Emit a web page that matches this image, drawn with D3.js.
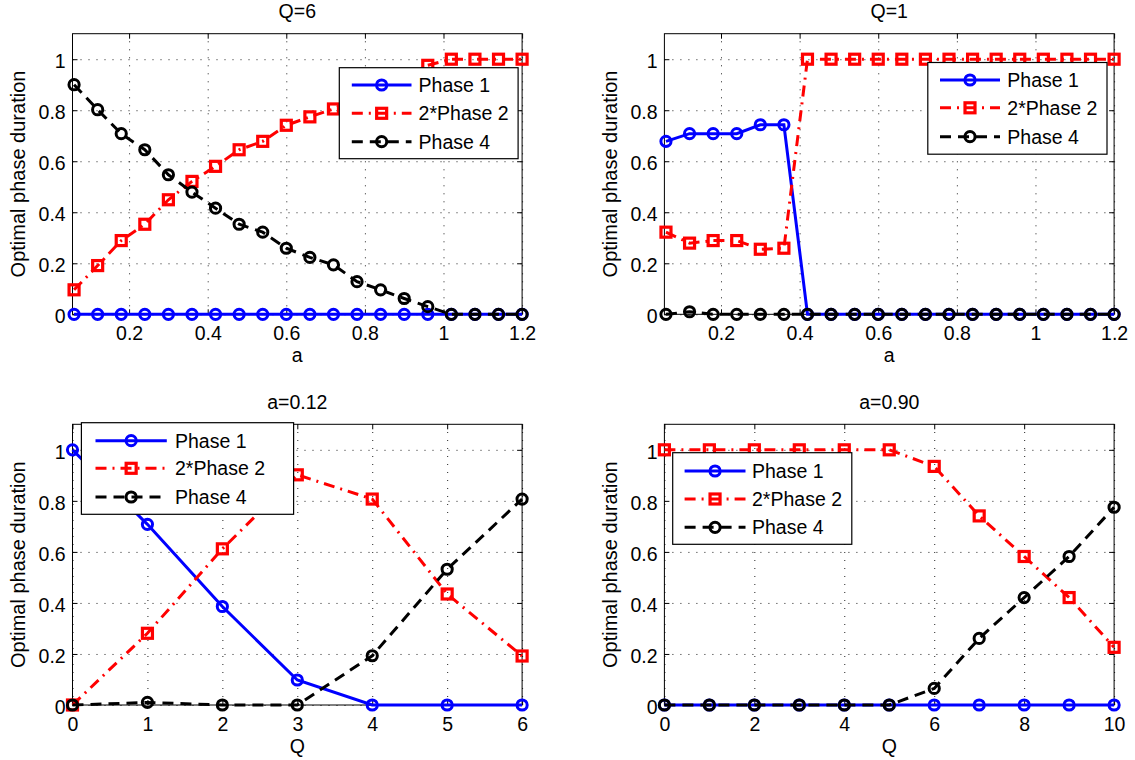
<!DOCTYPE html>
<html>
<head>
<meta charset="utf-8">
<script src="https://cdn.jsdelivr.net/npm/d3@7"></script>
<style>
  html, body { margin: 0; padding: 0; background: #fff; }
  svg { display: block; font-family: "Liberation Sans", Arial, Helvetica, sans-serif; }
</style>
</head>
<body>
<svg id="chart" width="1135" height="760"></svg>
<script>
// ---------------- DATA ----------------
const aValues = [0.06, 0.12, 0.18, 0.24, 0.30, 0.36, 0.42, 0.48, 0.54, 0.60,
                 0.66, 0.72, 0.78, 0.84, 0.90, 0.96, 1.02, 1.08, 1.14, 1.20];
const qValuesLow = [0, 1, 2, 3, 4, 5, 6];
const qValuesHigh = [0, 1, 2, 3, 4, 5, 6, 7, 8, 9, 10];

// Panel "Q=6"
const q6Phase1 = [0, 0, 0, 0, 0, 0, 0, 0, 0, 0, 0, 0, 0, 0, 0, 0, 0, 0, 0, 0];
const q6Phase2 = [0.096, 0.191, 0.289, 0.353, 0.449, 0.521, 0.580, 0.645, 0.678, 0.741,
                  0.774, 0.805, 0.845, 0.885, 0.930, 0.976, 1, 1, 1, 1];
const q6Phase4 = [0.900, 0.802, 0.708, 0.645, 0.547, 0.479, 0.416, 0.353, 0.322, 0.259,
                  0.223, 0.194, 0.128, 0.096, 0.062, 0.030, 0, 0, 0, 0];

// Panel "Q=1"
const q1Phase1 = [0.678, 0.708, 0.708, 0.708, 0.743, 0.743, 0, 0, 0, 0,
                  0, 0, 0, 0, 0, 0, 0, 0, 0, 0];
const q1Phase2 = [0.322, 0.279, 0.289, 0.289, 0.255, 0.259, 1, 1, 1, 1,
                  1, 1, 1, 1, 1, 1, 1, 1, 1, 1];
const q1Phase4 = [0, 0.010, 0, 0, 0, 0, 0, 0, 0, 0,
                  0, 0, 0, 0, 0, 0, 0, 0, 0, 0];

// Panel "a=0.12"
const a012Phase1 = [1.0, 0.708, 0.386, 0.098, 0, 0, 0];
const a012Phase2 = [0, 0.281, 0.612, 0.902, 0.807, 0.435, 0.192];
const a012Phase4 = [0, 0.010, 0, 0, 0.193, 0.532, 0.807];

// Panel "a=0.90"
const a090Phase1 = [0, 0, 0, 0, 0, 0, 0, 0, 0, 0, 0];
const a090Phase2 = [1, 1, 1, 1, 1, 1, 0.935, 0.741, 0.582, 0.421, 0.226];
const a090Phase4 = [0, 0, 0, 0, 0, 0, 0.065, 0.261, 0.421, 0.582, 0.775];

const seriesNames = ["Phase 1", "2*Phase 2", "Phase 4"];
const panelTitles = ["Q=6", "Q=1", "a=0.12", "a=0.90"];
const xLabels = ["a", "a", "Q", "Q"];
const yLabel = "Optimal phase duration";
const yTicks = [0, 0.2, 0.4, 0.6, 0.8, 1];
const xTicksA = [0.2, 0.4, 0.6, 0.8, 1, 1.2];
const xTicksQLow = [0, 1, 2, 3, 4, 5, 6];
const xTicksQHigh = [0, 2, 4, 6, 8, 10];

// ---------------- STYLE / LAYOUT ----------------
const seriesStyles = [
  { color: "#0000ff", dash: null, marker: "circle" },
  { color: "#ff0000", dash: "11,6,2,6", marker: "square" },
  { color: "#000000", dash: "11,7", marker: "circle" }
];
const FONT = 19.5;
const LINE_W = 3;

const panels = [
  { left: 72.5, right: 522.1, top: 33.7, bottom: 314.3, xDomain: [0.056, 1.2],
    xs: aValues, ys: [q6Phase1, q6Phase2, q6Phase4], xTicks: xTicksA,
    legend: { x: 339.3, y: 67.7, w: 178.8, h: 91, lineX0: 351.8, lineX1: 411.5, textX: 418.6, rows: [85, 113.3, 141.7] } },
  { left: 664.4, right: 1114.1, top: 33.7, bottom: 314.3, xDomain: [0.056, 1.2],
    xs: aValues, ys: [q1Phase1, q1Phase2, q1Phase4], xTicks: xTicksA,
    legend: { x: 927.8, y: 62.5, w: 179.2, h: 91.7, lineX0: 940, lineX1: 1000, textX: 1007.3, rows: [80, 107.8, 136.7] } },
  { left: 72.5, right: 522.1, top: 424.3, bottom: 705, xDomain: [0, 6],
    xs: qValuesLow, ys: [a012Phase1, a012Phase2, a012Phase4], xTicks: xTicksQLow,
    legend: { x: 81.4, y: 422.7, w: 212.2, h: 91.6, lineX0: 95.5, lineX1: 166.8, textX: 175, rows: [440.7, 468.3, 497] } },
  { left: 664.4, right: 1114.1, top: 424.3, bottom: 705, xDomain: [0, 10],
    xs: qValuesHigh, ys: [a090Phase1, a090Phase2, a090Phase4], xTicks: xTicksQHigh,
    legend: { x: 672.7, y: 452.7, w: 179.1, h: 91.6, lineX0: 684.6, lineX1: 745.5, textX: 752, rows: [471, 499, 527.3] } }
];

const svg = d3.select("#chart");
svg.append("rect").attr("width", 1135).attr("height", 760).attr("fill", "#fff");

function drawMarker(g, shape, cx, cy, color) {
  if (shape === "circle") {
    g.append("circle").attr("cx", cx).attr("cy", cy).attr("r", 5.1)
      .attr("fill", "none").attr("stroke", color).attr("stroke-width", 3);
  } else {
    g.append("rect").attr("x", cx - 5).attr("y", cy - 5).attr("width", 10).attr("height", 10)
      .attr("fill", "none").attr("stroke", color).attr("stroke-width", 3.2);
  }
}

panels.forEach((p, i) => {
  const g = svg.append("g");
  const x = d3.scaleLinear().domain(p.xDomain).range([p.left, p.right]);
  const y = d3.scaleLinear().domain([0, 1.1]).range([p.bottom, p.top]);
  const w = p.right - p.left, h = p.bottom - p.top;

  // grid
  g.append("g").attr("transform", `translate(0,${p.bottom})`)
    .call(d3.axisBottom(x).tickValues(p.xTicks).tickSize(-h).tickFormat(""))
    .call(s => { s.select(".domain").remove();
      s.selectAll("line").attr("stroke", "#222").attr("stroke-width", 1).attr("stroke-dasharray", "1,7"); });
  g.append("g").attr("transform", `translate(${p.left},0)`)
    .call(d3.axisLeft(y).tickValues(yTicks).tickSize(-w).tickFormat(""))
    .call(s => { s.select(".domain").remove();
      s.selectAll("line").attr("stroke", "#222").attr("stroke-width", 1).attr("stroke-dasharray", "1,7"); });

  // axes with inward ticks
  const fmt = d3.format("~g");
  const styleAxis = s => {
    s.select(".domain").remove();
    s.selectAll("line").attr("stroke", "#000").attr("stroke-width", 1);
    s.selectAll("text").attr("font-size", FONT).attr("fill", "#000").attr("font-family", null);
  };
  g.append("g").attr("transform", `translate(0,${p.bottom})`)
    .call(d3.axisBottom(x).tickValues(p.xTicks).tickSizeInner(-5).tickSizeOuter(0).tickPadding(12).tickFormat(fmt))
    .call(styleAxis);
  g.append("g").attr("transform", `translate(0,${p.top})`)
    .call(d3.axisTop(x).tickValues(p.xTicks).tickSizeInner(-5).tickSizeOuter(0).tickFormat(""))
    .call(styleAxis);
  g.append("g").attr("transform", `translate(${p.left},0)`)
    .call(d3.axisLeft(y).tickValues(yTicks).tickSizeInner(-5).tickSizeOuter(0).tickPadding(6.8).tickFormat(fmt))
    .call(styleAxis)
    .call(s => s.selectAll("text").attr("dy", "0.44em"));
  g.append("g").attr("transform", `translate(${p.right},0)`)
    .call(d3.axisRight(y).tickValues(yTicks).tickSizeInner(-5).tickSizeOuter(0).tickFormat(""))
    .call(styleAxis);

  // box
  g.append("rect").attr("x", p.left).attr("y", p.top).attr("width", w).attr("height", h)
    .attr("fill", "none").attr("stroke", "#000").attr("stroke-width", 1);

  // title & labels
  g.append("text").attr("x", (p.left + p.right) / 2).attr("y", p.top - 15.7)
    .attr("text-anchor", "middle").attr("font-size", FONT).text(panelTitles[i]);
  g.append("text").attr("x", (p.left + p.right) / 2).attr("y", p.bottom + 48)
    .attr("text-anchor", "middle").attr("font-size", FONT).text(xLabels[i]);
  g.append("text")
    .attr("transform", `translate(${p.left - 47.5},${(p.top + p.bottom) / 2}) rotate(-90)`)
    .attr("text-anchor", "middle").attr("font-size", 20).text(yLabel);

  // series
  const line = d3.line().x((d, k) => x(p.xs[k])).y(d => y(d));
  p.ys.forEach((vals, si) => {
    const st = seriesStyles[si];
    const sg = g.append("g");
    sg.append("path").datum(vals).attr("d", line)
      .attr("fill", "none").attr("stroke", st.color).attr("stroke-width", LINE_W)
      .attr("stroke-dasharray", st.dash);
    vals.forEach((v, k) => drawMarker(sg, st.marker, x(p.xs[k]), y(v), st.color));
  });

  // legend
  const L = p.legend;
  const lg = g.append("g");
  lg.append("rect").attr("x", L.x).attr("y", L.y).attr("width", L.w).attr("height", L.h)
    .attr("fill", "#fff").attr("stroke", "#000").attr("stroke-width", 1.2);
  seriesNames.forEach((name, si) => {
    const st = seriesStyles[si];
    const ry = L.rows[si];
    lg.append("line").attr("x1", L.lineX0).attr("x2", L.lineX1).attr("y1", ry).attr("y2", ry)
      .attr("stroke", st.color).attr("stroke-width", LINE_W).attr("stroke-dasharray", st.dash);
    drawMarker(lg, st.marker, (L.lineX0 + L.lineX1) / 2, ry, st.color);
    lg.append("text").attr("x", L.textX).attr("y", ry).attr("dy", "0.35em")
      .attr("font-size", FONT).text(name);
  });
});
</script>
</body>
</html>
